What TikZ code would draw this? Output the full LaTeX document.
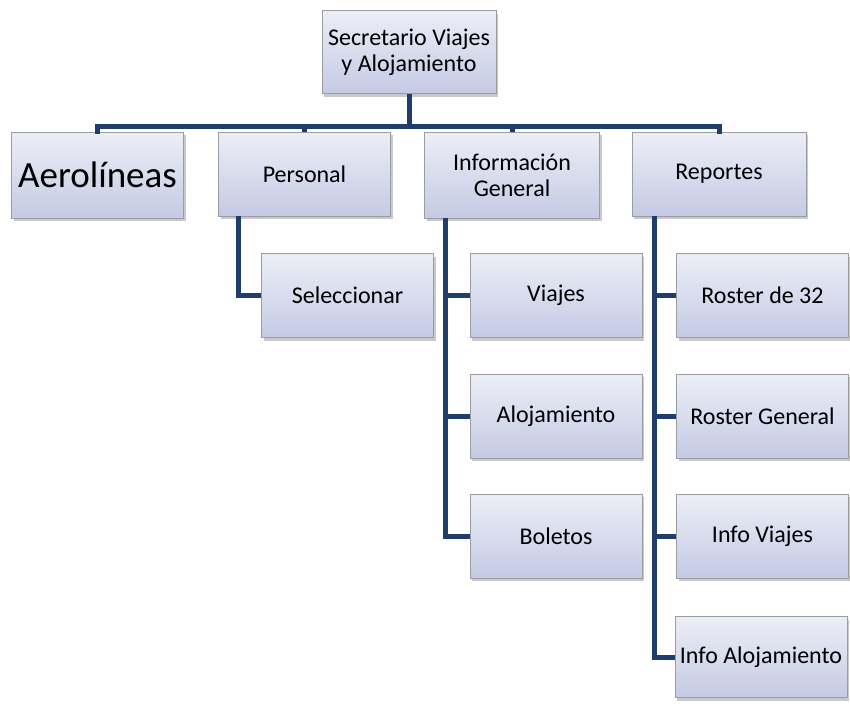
\documentclass[tikz,border=0pt]{standalone}
\usepackage{fontspec}
\setmainfont{Carlito}
\usetikzlibrary{shadows}
\definecolor{linknavy}{HTML}{1F3E6C}
\definecolor{boxtop}{HTML}{ECEEF6}
\definecolor{boxbottom}{HTML}{C4CAE4}
\definecolor{boxedge}{HTML}{9A9CA4}
\tikzset{
  unitbox/.style={rectangle, draw=boxedge, line width=0.8pt,
    top color=boxtop, bottom color=boxbottom,
    minimum width=172pt, minimum height=84pt, inner sep=2pt,
    align=center, font=\fontsize{24}{26}\selectfont,
    drop shadow={shadow xshift=2pt, shadow yshift=-3pt, opacity=0.35, fill=black!60}},
  link/.style={draw=linknavy, line width=5pt}
}
\begin{document}
\begin{tikzpicture}[x=1pt, y=-1pt]
  \useasboundingbox (0,0) rectangle (850,705);
  \fill[white] (0,0) rectangle (850,705);

  % branch lines and stems
  \coordinate (bar) at (0,126);
  \coordinate (pv) at (238,0);
  \coordinate (gv) at (445,0);
  \coordinate (rv) at (654,0);

  % boxes
  \node[unitbox, minimum width=174pt, minimum height=83pt] (top) at (409,52) {Secretario Viajes\\y Alojamiento};
  \node[unitbox, font=\fontsize{37}{40}\selectfont, minimum height=86pt] (aero) at (97.5,175) {Aerolíneas};
  \node[unitbox] (pers) at (304.5,174) {Personal};
  \node[unitbox, minimum width=175pt, minimum height=86pt] (infog) at (512,175) {Información\\General};
  \node[unitbox, minimum width=174pt] (rep) at (719,174) {Reportes};

  \node[unitbox] (sel) at (347.5,295.5) {Seleccionar};

  \node[unitbox] (viajes) at (556,295.5) {Viajes};
  \node[unitbox] (aloj) at (556,416) {Alojamiento};
  \node[unitbox] (bol) at (556,536) {Boletos};

  \node[unitbox] (r32) at (762.5,295.5) {Roster de 32};
  \node[unitbox] (rgen) at (762.5,416) {Roster General};
  \node[unitbox] (iviaj) at (762.5,536) {Info Viajes};
  \node[unitbox, minimum height=81pt] (ialoj) at (761,657) {Info Alojamiento};

  % connectors
  \draw[link] (top.south) -- (top.south |- bar);
  \draw[link, line cap=rect] (aero.north) -- (aero.north |- bar) -- (rep.north |- bar) -- (rep.north);
  \draw[link] (pers.north |- bar) -- (pers.north);
  \draw[link] (infog.north |- bar) -- (infog.north);

  \draw[link] (pers.south -| pv) |- (sel.west);

  \draw[link] (infog.south -| gv) |- (bol.west);
  \draw[link] (viajes.west -| gv) -- (viajes.west);
  \draw[link] (aloj.west -| gv) -- (aloj.west);

  \draw[link] (rep.south -| rv) |- (ialoj.west);
  \draw[link] (r32.west -| rv) -- (r32.west);
  \draw[link] (rgen.west -| rv) -- (rgen.west);
  \draw[link] (iviaj.west -| rv) -- (iviaj.west);
\end{tikzpicture}
\end{document}
